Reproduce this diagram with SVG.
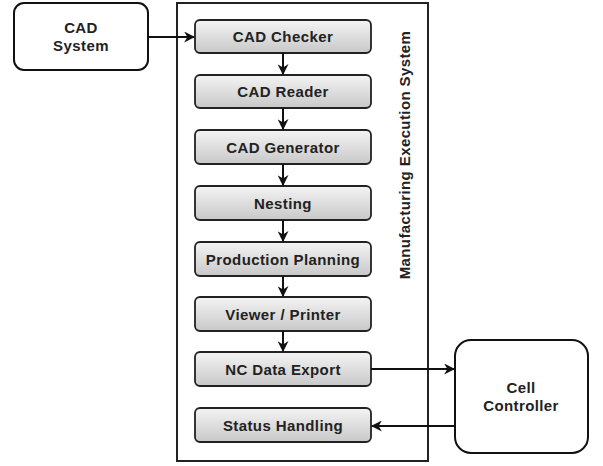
<svg xmlns="http://www.w3.org/2000/svg" width="603" height="466" viewBox="0 0 603 466">
<style>
.proc{fill:url(#g);stroke:#222;stroke-width:1.8}
.ext{fill:#fff;stroke:#111;stroke-width:2}
.t{font-family:"Liberation Sans",Arial,sans-serif;font-weight:bold;font-size:15px;letter-spacing:0.4px;fill:#222;text-anchor:middle}
.c{stroke:#111;stroke-width:2;fill:none;marker-end:url(#a)}
</style>
<defs>
<linearGradient id="g" x1="0" y1="0" x2="0" y2="1">
<stop offset="0" stop-color="#f4f4f4"/>
<stop offset="1" stop-color="#c8c8c8"/>
</linearGradient>
<marker id="a" viewBox="0 0 10 10" refX="9" refY="5" markerWidth="11" markerHeight="11" markerUnits="userSpaceOnUse" orient="auto">
<path d="M0,0 L10,5 L0,10 L3,5 Z" fill="#111"/>
</marker>
</defs>
<g id="mes">
<rect x="177" y="3" width="251" height="458" fill="#fff" stroke="#222" stroke-width="2"/>
<text class="t" transform="translate(410,155) rotate(-90)">Manufacturing Execution System</text>
</g>
<g id="cad-system">
<rect class="ext" x="14" y="3" width="134" height="67" rx="10"/>
<text class="t" x="81" y="33">CAD</text>
<text class="t" x="81" y="51">System</text>
</g>
<g id="cell-controller">
<rect class="ext" x="455" y="340" width="133" height="113" rx="16"/>
<text class="t" x="521" y="393">Cell</text>
<text class="t" x="521" y="411">Controller</text>
</g>
<g id="cad-checker"><rect class="proc" x="195" y="20" width="176" height="33" rx="5"/><text class="t" x="283" y="42">CAD Checker</text></g>
<g id="cad-reader"><rect class="proc" x="195" y="75" width="176" height="33" rx="5"/><text class="t" x="283" y="97">CAD Reader</text></g>
<g id="cad-generator"><rect class="proc" x="195" y="130" width="176" height="34" rx="5"/><text class="t" x="283" y="153">CAD Generator</text></g>
<g id="nesting"><rect class="proc" x="195" y="186" width="176" height="34" rx="5"/><text class="t" x="283" y="209">Nesting</text></g>
<g id="production-planning"><rect class="proc" x="195" y="242" width="176" height="34" rx="5"/><text class="t" x="283" y="265">Production Planning</text></g>
<g id="viewer-printer"><rect class="proc" x="195" y="297" width="176" height="34" rx="5"/><text class="t" x="283" y="320">Viewer / Printer</text></g>
<g id="nc-data-export"><rect class="proc" x="195" y="352" width="176" height="34" rx="5"/><text class="t" x="283" y="375">NC Data Export</text></g>
<g id="status-handling"><rect class="proc" x="195" y="408" width="176" height="34" rx="5"/><text class="t" x="283" y="431">Status Handling</text></g>
<g id="connectors">
<path class="c" d="M148,37 H194"/>
<path class="c" d="M283,53 V74"/>
<path class="c" d="M283,108 V129"/>
<path class="c" d="M283,164 V185"/>
<path class="c" d="M283,220 V241"/>
<path class="c" d="M283,276 V296"/>
<path class="c" d="M283,331 V351"/>
<path class="c" d="M371,369 H454"/>
<path class="c" d="M455,426 H372"/>
</g>
</svg>
